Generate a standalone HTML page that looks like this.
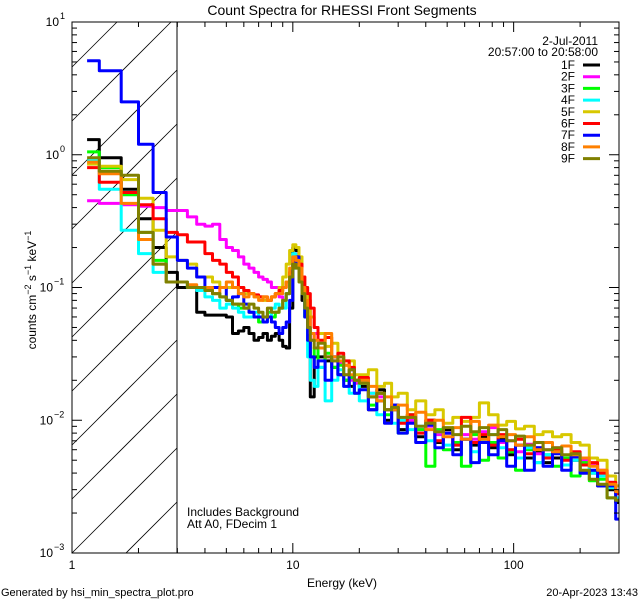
<!DOCTYPE html>
<html><head><meta charset="utf-8"><style>
html,body{margin:0;padding:0;background:#fff;width:640px;height:600px;overflow:hidden;}
svg{display:block;font-family:"Liberation Sans",sans-serif;}
</style></head><body>
<svg id="chart" width="640" height="600" viewBox="0 0 640 600" xmlns="http://www.w3.org/2000/svg">
<defs><clipPath id="plotclip"><rect x="72" y="22" width="547" height="531"/></clipPath></defs>
<rect width="640" height="600" fill="#fff"/>
<text x="342" y="15" font-size="14" text-anchor="middle">Count Spectra for RHESSI Front Segments</text>
<g id="hatch"></g>
<line x1="177" y1="22" x2="177" y2="553" stroke="#000" stroke-width="1"/>
<g id="series" clip-path="url(#plotclip)"></g>
<g id="axes"></g>
<g id="legend">
<text x="598" y="45" font-size="12" text-anchor="end">2-Jul-2011</text>
<text x="598" y="56" font-size="12" text-anchor="end">20:57:00 to 20:58:00</text>
</g>
<text transform="translate(36,290) rotate(-90)" font-size="12" text-anchor="middle">counts cm<tspan dy="-5" font-size="9">−2</tspan><tspan dy="5"> s</tspan><tspan dy="-5" font-size="9">−1</tspan><tspan dy="5"> keV</tspan><tspan dy="-5" font-size="9">−1</tspan></text>
<text x="342" y="587" font-size="12" text-anchor="middle">Energy (keV)</text>
<text x="187" y="516" font-size="12">Includes Background</text>
<text x="187" y="528" font-size="12">Att A0, FDecim 1</text>
<text x="1" y="596" font-size="11">Generated by hsi_min_spectra_plot.pro</text>
<text x="638" y="596" font-size="11" text-anchor="end">20-Apr-2023 13:43</text>
</svg>
<script>
const edges=[1.17,1.33,1.67,2,2.33,2.67,3,3.33,3.67,4,4.33,4.67,5,5.33,5.67,6,6.33,6.67,7,7.33,7.67,8,8.33,8.67,9,9.33,9.67,10,10.33,10.67,11,11.33,11.67,12,12.5,13,14,15,16,17,18,19,20,22,24,26,28,30,33,36,40,44,48,53,58,64,70,77,85,93,102,112,124,136,150,165,182,200,220,240,265,290,305];
const seriesNames=["1F","2F","3F","4F","5F","6F","7F","8F","9F"];
const seriesColors=["#000000","#ff00ff","#00ff00","#00ffff","#d8c800","#ff0000","#0000ff","#ff8000","#808000"];
const s1F=[1.3,0.95,0.55,0.33,0.2,0.13, 0.1,0.1,0.065,0.062,0.062,0.062,0.06,0.045,0.047,0.05,0.045,0.04,0.042,0.045,0.04,0.043,0.045,0.04,0.036,0.035,0.07,0.2,0.19,0.13,0.08,0.06,0.04, 0.015,0.03,0.03,0.028,0.025,0.022,0.02,0.018,0.02, 0.018,0.012,0.017,0.01,0.012,0.0085,0.01,0.0075,0.01,0.0068,0.0085,0.006,0.0072,0.0065,0.0075,0.0062,0.0072,0.0055,0.0065,0.0052,0.0058,0.0048,0.0052,0.0046,0.005,0.004,0.004,0.0032,0.003,0.0024];
const s2F=[0.45,0.43,0.42,0.41,0.40,0.38, 0.38,0.34,0.3,0.29,0.3,0.23,0.2,0.19,0.17,0.15,0.14,0.13,0.12,0.115,0.11,0.1,0.1,0.085,0.08,0.09,0.12,0.17,0.18,0.15,0.12,0.1,0.08, 0.04,0.045,0.035,0.03,0.028,0.027,0.022,0.02,0.019, 0.02,0.016,0.015,0.012,0.013,0.01,0.01,0.0085,0.009,0.0078,0.008,0.0068,0.0078,0.0072,0.0082,0.0088,0.0068,0.007,0.0058,0.0066,0.0056,0.006,0.0062,0.0052,0.0055,0.005,0.0046,0.0042,0.0034,0.0028];
const s3F=[1.05,0.8,0.5,0.26,0.16,0.11, 0.11,0.1,0.1,0.095,0.09,0.085,0.08,0.075,0.07,0.07,0.065,0.06,0.055,0.06,0.065,0.06,0.065,0.07,0.08,0.09,0.12,0.14,0.15,0.12,0.09,0.06,0.04, 0.03,0.035,0.025,0.032,0.025,0.026,0.02,0.021,0.016, 0.019,0.013,0.016,0.011,0.013,0.008,0.011,0.0085,0.0045,0.0085,0.006,0.0068,0.0045,0.0078,0.005,0.0068,0.0052,0.0058,0.0042,0.006,0.0048,0.0055,0.0045,0.0052,0.0038,0.0048,0.0035,0.0036,0.0026,0.0025];
const s4F=[0.9,0.55,0.27,0.18,0.13,0.11, 0.11,0.1,0.095,0.085,0.08,0.07,0.075,0.07,0.065,0.06,0.06,0.065,0.06,0.055,0.06,0.07,0.075,0.07,0.07,0.09,0.13,0.18,0.17,0.13,0.09,0.06,0.03, 0.02,0.018,0.025,0.014,0.02,0.024,0.018,0.016,0.02, 0.014,0.016,0.011,0.012,0.0095,0.01,0.0085,0.009,0.007,0.0082,0.0065,0.0065,0.0072,0.0058,0.007,0.0078,0.0062,0.006,0.0052,0.0062,0.0048,0.0055,0.0058,0.0046,0.005,0.0046,0.004,0.0038,0.0031,0.0026];
const s5F=[0.85,0.82,0.65,0.47,0.27,0.17, 0.16,0.15,0.12,0.12,0.11,0.1,0.1,0.1,0.1,0.09,0.09,0.085,0.085,0.08,0.08,0.085,0.09,0.1,0.12,0.15,0.19,0.21,0.2,0.17,0.12,0.1,0.08, 0.06,0.05,0.045,0.036,0.038,0.03,0.026,0.028,0.022, 0.022,0.024,0.018,0.019,0.015,0.016,0.012,0.014,0.011,0.012,0.0095,0.0105,0.0098,0.0105,0.0135,0.011,0.0092,0.0098,0.0086,0.009,0.0078,0.0082,0.0075,0.0078,0.0068,0.0065,0.0052,0.005,0.0038,0.0032];
const s6F=[0.8,0.62,0.52,0.42,0.33,0.26, 0.25,0.22,0.22,0.18,0.16,0.15,0.13,0.12,0.1,0.095,0.09,0.088,0.085,0.085,0.08,0.085,0.09,0.095,0.1,0.11,0.13,0.16,0.17,0.15,0.12,0.1,0.09, 0.07,0.05,0.04,0.042,0.03,0.032,0.028,0.025,0.02, 0.021,0.015,0.016,0.012,0.013,0.0095,0.011,0.008,0.01,0.007,0.008,0.0065,0.0105,0.0068,0.0078,0.0065,0.0078,0.006,0.0072,0.0056,0.0062,0.0052,0.006,0.005,0.0058,0.0046,0.0048,0.004,0.0034,0.0028];
const s7F=[5.1,4.3,2.5,1.2,0.52,0.24, 0.16,0.14,0.12,0.1,0.1,0.1,0.08,0.085,0.09,0.075,0.065,0.06,0.06,0.055,0.06,0.055,0.05,0.045,0.05,0.055,0.08,0.15,0.17,0.13,0.09,0.06,0.04, 0.03,0.025,0.028,0.02,0.03,0.022,0.018,0.024,0.016, 0.017,0.012,0.014,0.0095,0.013,0.008,0.0095,0.0068,0.0092,0.0062,0.008,0.0055,0.0072,0.0048,0.0068,0.0055,0.007,0.0045,0.0065,0.0042,0.0062,0.0045,0.0056,0.0042,0.0053,0.004,0.0042,0.0032,0.0032,0.0018];
const s8F=[0.88,0.72,0.43,0.23,0.15,0.11, 0.11,0.105,0.1,0.1,0.09,0.1,0.11,0.1,0.09,0.085,0.09,0.085,0.08,0.085,0.08,0.085,0.09,0.09,0.1,0.11,0.14,0.17,0.16,0.14,0.1,0.08,0.06, 0.045,0.04,0.035,0.045,0.03,0.028,0.026,0.022,0.02, 0.02,0.018,0.014,0.015,0.012,0.013,0.0105,0.0115,0.0085,0.01,0.0075,0.0088,0.0072,0.0098,0.0072,0.0092,0.0075,0.0078,0.0065,0.0075,0.006,0.0068,0.0058,0.0064,0.0055,0.0052,0.0045,0.0042,0.0033,0.0029];
const s9F=[0.95,0.75,0.7,0.26,0.15,0.11, 0.11,0.1,0.1,0.095,0.09,0.085,0.08,0.075,0.075,0.07,0.075,0.07,0.065,0.06,0.07,0.065,0.065,0.07,0.08,0.09,0.12,0.15,0.14,0.11,0.09,0.07,0.05, 0.04,0.035,0.038,0.03,0.028,0.03,0.022,0.024,0.02, 0.019,0.015,0.016,0.012,0.0125,0.0105,0.0105,0.009,0.0095,0.0082,0.0088,0.0078,0.009,0.0082,0.0088,0.0078,0.0085,0.007,0.0076,0.0065,0.0068,0.006,0.0062,0.0055,0.0056,0.0042,0.0036,0.0033,0.0026,0.0025];
const allSeries=[s1F,s2F,s3F,s4F,s5F,s6F,s7F,s8F,s9F];
const xTickValues=[1,10,100];
const xTickLabels=["1","10","100"];
const yTickExps=[1,0,-1,-2,-3];

const NS="http://www.w3.org/2000/svg";
const L=72,R=619,T=22,B=553,XMIN=1,XMAX=300,YMIN=1e-3,YMAX=10;
function xs(v){return L+(Math.log10(v)-Math.log10(XMIN))/(Math.log10(XMAX)-Math.log10(XMIN))*(R-L);}
function ys(v){return B-(Math.log10(v)-Math.log10(YMIN))/(Math.log10(YMAX)-Math.log10(YMIN))*(B-T);}
function mk(tag,attrs,parent){const e=document.createElementNS(NS,tag);for(const k in attrs)e.setAttribute(k,attrs[k]);parent.appendChild(e);return e;}

// hatch lines clipped manually to region x∈[L,177], y∈[T,B]
const hatch=document.getElementById('hatch');
const HX=177;
for(let i=-2;i<14;i++){
  const y0=B-i*54; // line: y = y0 - (x-L)
  let xa=L, xb=HX;
  // y within [T,B]: x >= L + (y0-B), x <= L + (y0-T)
  xa=Math.max(xa, L+(y0-B));
  xb=Math.min(xb, L+(y0-T));
  if(xb<=xa) continue;
  const ln=mk('line',{x1:xa,y1:y0-(xa-L),x2:xb,y2:y0-(xb-L),stroke:'#000','stroke-width':0.8},hatch);
  
  
}

const sg=document.getElementById('series');
allSeries.forEach((vals,si)=>{
  let d='';
  for(let i=0;i<vals.length;i++){
    const x0=xs(edges[i]),x1=xs(Math.min(edges[i+1],XMAX)),y=ys(vals[i]);
    d+=(i===0?'M':'L')+x0.toFixed(1)+','+y.toFixed(1)+'L'+x1.toFixed(1)+','+y.toFixed(1);
  }
  const p=mk('path',{d:d,fill:'none',stroke:seriesColors[si],'stroke-width':3,'stroke-linejoin':'round'},sg);
  
  
});

const ax=document.getElementById('axes');
const frame=mk('rect',{x:L,y:T,width:R-L,height:B-T,fill:'none',stroke:'#000','stroke-width':1},ax);


for(let dec=0;dec<=2;dec++){
  for(let m=1;m<=9;m++){
    const v=m*Math.pow(10,dec); if(v>XMAX) break;
    const x=xs(v),len=(m===1)?10:5;
    const t1=mk('line',{x1:x,y1:B,x2:x,y2:B-len,stroke:'#000'},ax);
    
    
    const t2=mk('line',{x1:x,y1:T,x2:x,y2:T+len,stroke:'#000'},ax);
    
    
  }
}
xTickValues.forEach((v,i)=>{
  const t=mk('text',{x:xs(v),y:B+16,'font-size':12,'text-anchor':'middle'},ax);
  t.textContent=xTickLabels[i];
  
  
});
for(let e=-3;e<1;e++){
  for(let m=1;m<=9;m++){
    const v=m*Math.pow(10,e); const y=ys(v),len=(m===1)?10:5;
    const t1=mk('line',{x1:L,y1:y,x2:L+len,y2:y,stroke:'#000'},ax);
    
    
    const t2=mk('line',{x1:R,y1:y,x2:R-len,y2:y,stroke:'#000'},ax);
    
    
  }
}
yTickExps.forEach(e=>{
  const y=ys(Math.pow(10,e));
  const w=(e<0?16:10);
  const base=mk('text',{x:L-3-w,y:y+4,'font-size':12,'text-anchor':'end'},ax);
  base.textContent='10';
  
  
  const sup=mk('text',{x:L-3-w+1,y:y-3,'font-size':9,'text-anchor':'start'},ax);
  sup.textContent=(e<0?'−':'')+Math.abs(e);
  
  
});

const lg=document.getElementById('legend');
seriesNames.forEach((n,i)=>{
  const y=65+i*11.7;
  const t=mk('text',{x:575,y:y+4,'font-size':12,'text-anchor':'end'},lg);
  t.textContent=n;
  
  
  const l=mk('line',{x1:583,y1:y,x2:600,y2:y,stroke:seriesColors[i],'stroke-width':3},lg);
  
  
});
</script>
</body></html>
